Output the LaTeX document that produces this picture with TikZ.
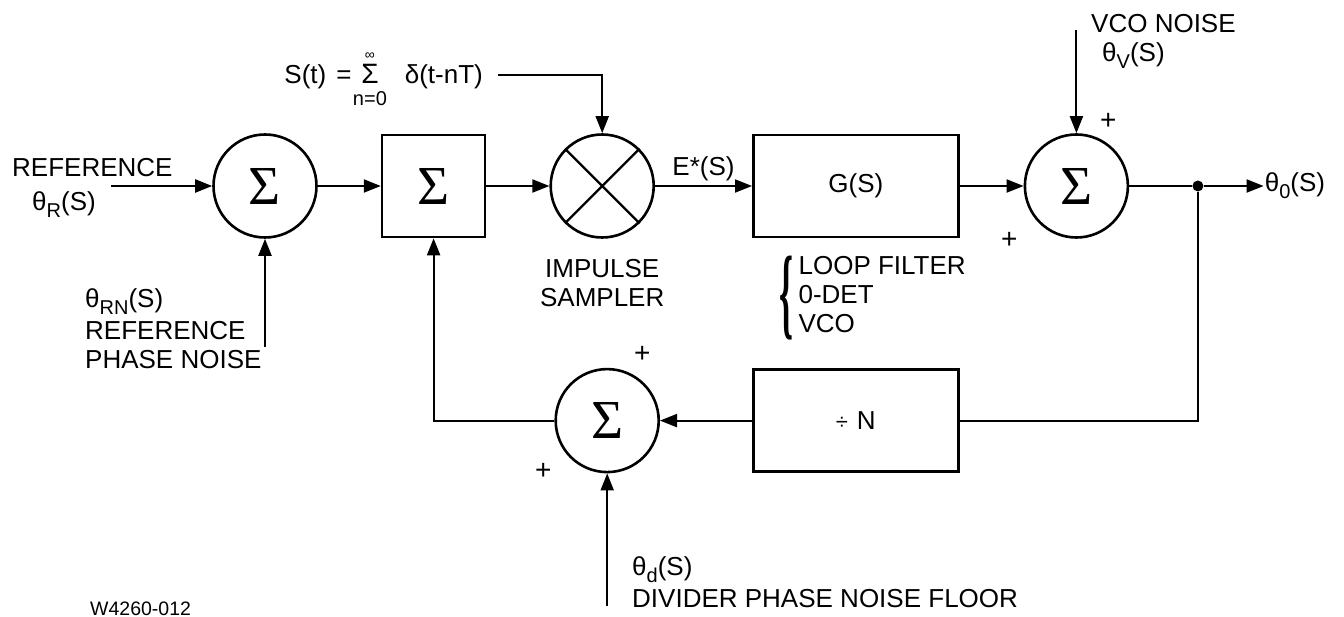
\documentclass[tikz,border=0pt]{standalone}
\usepackage{fontspec}
\usepackage{graphicx}
\setmainfont{Liberation Sans}
\newfontfamily\sigmafont{Liberation Serif}
\usetikzlibrary{arrows.meta,positioning}
\newcommand{\lowsub}[1]{\raisebox{-7pt}{\fontsize{20}{20}\selectfont #1}}
\newcommand{\Sig}{{\sigmafont\fontsize{55}{55}\selectfont Σ}}

\begin{document}
\begin{tikzpicture}[
    x=1pt, y=-1pt,
    font=\fontsize{26}{29}\selectfont,
    sumnode/.style={draw, circle, line width=2.6pt, minimum size=103pt, inner sep=0pt},
    block/.style={draw, rectangle, line width=2.6pt, minimum height=102pt, inner sep=0pt},
    lbl/.style={inner sep=1pt, align=left},
    plussign/.style={inner sep=0pt, font=\fontsize{28}{28}\selectfont},
    junction/.style={circle, fill, inner sep=0pt, minimum size=11pt},
    wire/.style={line width=2pt},
    arrow/.style={wire, -{Triangle[length=17pt,width=13pt]}}
]
    \path[use as bounding box, fill=white] (0,0) rectangle (1344,617);

    % forward path
    \node[sumnode] (sumref) at (265,186) {\Sig};
    \node[block, minimum width=103pt, right=63pt of sumref] (sumloop) {\Sig};
    \node[sumnode, right=63pt of sumloop] (sampler) {};
    \node[block, minimum width=205pt, right=97pt of sampler] (gfilt) {G(S)};
    \node[sumnode, right=64pt of gfilt] (sumvco) {\Sig};
    \node[junction, right=63pt of sumvco] (split) {};
    \node[lbl, right=60pt of split] (thetaout) {θ\lowsub{0}(S)};

    % feedback path
    \node[block, minimum width=205pt, below=130pt of gfilt] (divn) {{\fontsize{22}{22}\selectfont ÷}\hspace{9pt}N};
    \node[sumnode, left=92pt of divn] (sumdiv) {\Sig};

    % free ends of the inputs
    \coordinate[left=101pt of sumref.west] (refin);
    \coordinate[below=108pt of sumref.south] (rnin);
    \coordinate[above=103pt of sumvco.north] (vcoin);
    \coordinate[below=133pt of sumdiv.south] (divin);

    % labels
    \node[lbl, anchor=north west] (reflbl) at (11,157) {REFERENCE\\[5pt]\hspace*{20pt}θ\lowsub{R}(S)};
    \node[lbl, anchor=north west] (rnlbl) at (84,287) {θ\lowsub{RN}(S)\\[3pt]REFERENCE\\PHASE NOISE};
    \node[lbl, anchor=base east] (pulse) at (484,84) {S(t)\hspace{10pt}=\hspace{10pt}\rlap{\raisebox{24pt}{\hspace{3.5pt}\fontsize{14}{14}\selectfont ∞}}\rlap{\raisebox{-22pt}{\hspace{-8.5pt}\fontsize{20}{20}\selectfont n=0}}{\fontsize{28}{28}\selectfont Σ}\hspace{26pt}δ(t-nT)};
    \node[lbl, align=center, below=19pt of sampler] (samplbl) {IMPULSE\\SAMPLER};
    \node[inner sep=0pt, anchor=north west] (gbrace) at (779,256) {\resizebox*{14pt}{84pt}{\sigmafont\bfseries\{}};
    \node[lbl, right=4pt of gbrace, yshift=4pt] (gnote) {LOOP FILTER\\0-DET\\VCO};
    \node[lbl, anchor=north west] (vcolbl) at (1090,13) {VCO NOISE\\\hspace*{11pt}θ\lowsub{V}(S)};
    \node[lbl, anchor=north west] (divlbl) at (631,555) {θ\lowsub{d}(S)\\[3pt]DIVIDER PHASE NOISE FLOOR};
    \node[lbl, anchor=base west, font=\fontsize{19.5}{20}\selectfont] (figid) at (89,615) {W4260-012};

    \node[plussign] (pv1) at ([shift={(32,-65)}]sumvco.center) {+};
    \node[plussign] (pv2) at ([shift={(-67,54)}]sumvco.center) {+};
    \node[plussign] (pd1) at ([shift={(35,-66)}]sumdiv.center) {+};
    \node[plussign] (pd2) at ([shift={(-64,51)}]sumdiv.center) {+};

    % sampler cross
    \draw[line width=2.2pt] (sampler.45) -- (sampler.225) (sampler.135) -- (sampler.315);

    % connectors
    \draw[arrow] (refin) -- (sumref);
    \draw[arrow] (rnin) -- (sumref);
    \draw[arrow] (sumref) -- (sumloop);
    \draw[arrow] (sumloop) -- (sampler);
    \draw[arrow] ([shift={(14,-9)}]pulse.base east) -| (sampler);
    \draw[arrow] (sampler) -- node[above=1pt] (estar) {E*(S)} (gfilt);
    \draw[arrow] (gfilt) -- (sumvco);
    \draw[arrow] (vcoin) -- (sumvco);
    \draw[wire] (sumvco) -- (split);
    \draw[arrow] (split) -- (thetaout.west);
    \draw[wire] (split) |- (divn);
    \draw[arrow] (divn) -- (sumdiv);
    \draw[arrow] (divin) -- (sumdiv);
    \draw[arrow] (sumdiv) -| (sumloop);
\end{tikzpicture}
\end{document}
